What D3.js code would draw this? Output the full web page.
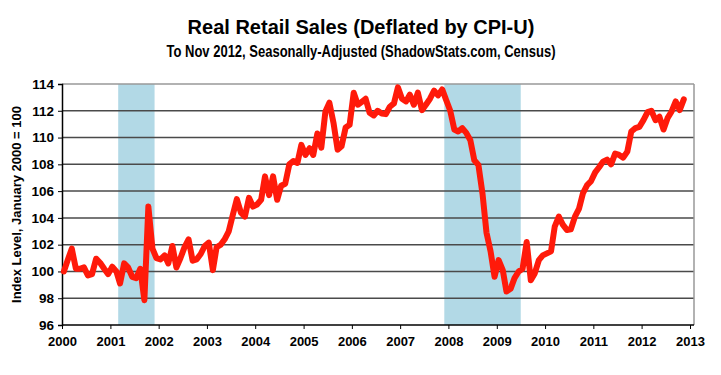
<!DOCTYPE html>
<html>
<head>
<meta charset="utf-8">
<script src="https://cdn.jsdelivr.net/npm/d3@7"></script>
<style>
  body { margin: 0; background: #fff; }
  svg text { font-family: "Liberation Sans", Arial, sans-serif; font-weight: bold; fill: #000; }
</style>
</head>
<body>
<div id="chart"></div>
<script>
// monthly index, January 2000 = 100
const v2000 = [100.0, 100.9, 101.7, 100.2, 100.2, 100.3, 99.7, 99.8, 100.95, 100.65, 100.2, 99.8];
const v2001 = [100.35, 100.0, 99.1, 100.6, 100.3, 99.6, 99.5, 100.2, 97.85, 104.85, 101.7, 101.0];
const v2002 = [100.9, 101.2, 100.6, 101.9, 100.3, 101.0, 101.8, 102.4, 100.8, 100.9, 101.3, 101.9];
const v2003 = [102.15, 100.1, 101.8, 102.0, 102.4, 103.0, 104.2, 105.4, 104.4, 104.1, 105.5, 104.85];
const v2004 = [105.0, 105.35, 107.1, 105.7, 107.1, 105.35, 106.4, 106.55, 108.0, 108.25, 108.1, 109.45];
const v2005 = [108.7, 109.2, 108.7, 110.3, 109.25, 111.95, 112.6, 111.1, 109.1, 109.35, 110.75, 110.95];
const v2006 = [113.35, 112.45, 112.65, 112.9, 111.85, 111.65, 112.0, 111.8, 111.75, 112.3, 112.55, 113.75];
const v2007 = [112.9, 112.7, 113.2, 112.45, 113.35, 112.05, 112.45, 112.9, 113.5, 113.15, 113.6, 112.8];
const v2008 = [112.0, 110.6, 110.45, 110.7, 110.35, 109.8, 108.3, 107.95, 105.8, 102.9, 101.5, 99.6];
const v2009 = [100.85, 100.1, 98.5, 98.7, 99.5, 100.0, 100.2, 102.2, 99.35, 99.85, 100.85, 101.2];
const v2010 = [101.35, 101.5, 103.35, 104.1, 103.5, 103.1, 103.15, 104.1, 104.7, 105.85, 106.45, 106.75];
const v2011 = [107.4, 107.8, 108.2, 108.35, 108.0, 108.8, 108.7, 108.5, 108.95, 110.45, 110.7, 110.8];
const v2012 = [111.3, 111.9, 112.0, 111.3, 111.55, 110.6, 111.45, 111.95, 112.7, 112.05, 112.85];

// recessions [start, end] as [year, month(0-based)], shaded through the end month
const recessions = [[[2001, 2], [2001, 10]], [[2007, 11], [2009, 5]]];

const yTicks = [96, 98, 100, 102, 104, 106, 108, 110, 112, 114];
const xTicks = [2000, 2001, 2002, 2003, 2004, 2005, 2006, 2007, 2008, 2009, 2010, 2011, 2012, 2013];

const title = "Real Retail Sales (Deflated by CPI-U)";
const subtitle = "To Nov 2012, Seasonally-Adjusted (ShadowStats.com, Census)";
const yTitle = "Index Level, January 2000 = 100";

const series = [v2000, v2001, v2002, v2003, v2004, v2005, v2006, v2007, v2008, v2009, v2010, v2011, v2012]
  .flatMap((vals, yi) => vals.map((v, m) => ({ date: new Date(2000 + yi, m, 15), value: v })));

const width = 721, height = 375;
const margin = { top: 84, right: 27, bottom: 50, left: 62 };

const svg = d3.select("#chart").append("svg")
  .attr("width", width)
  .attr("height", height);

const x = d3.scaleTime()
  .domain([new Date(2000, 0, 1), new Date(2013, 0, 1)])
  .range([margin.left, 690]);

const y = d3.scaleLinear()
  .domain([96, 114])
  .range([height - margin.bottom, margin.top]);

const plotRight = width - margin.right;

svg.selectAll(".recession")
  .data(recessions)
  .enter().append("rect")
  .attr("class", "recession")
  .attr("x", d => x(new Date(d[0][0], d[0][1], 1)))
  .attr("width", d => x(new Date(d[1][0], d[1][1] + 1, 1)) - x(new Date(d[0][0], d[0][1], 1)))
  .attr("y", y(114))
  .attr("height", y(96) - y(114))
  .attr("fill", "#b2d9e6");

// gridlines
svg.append("g")
  .selectAll("line")
  .data(yTicks.filter(t => t > 96))
  .enter().append("line")
  .attr("x1", margin.left)
  .attr("x2", plotRight)
  .attr("y1", d => y(d))
  .attr("y2", d => y(d))
  .attr("stroke", d => d === 114 ? "#999" : "#4a4a4a")
  .attr("stroke-width", 1.5);

svg.append("line")
  .attr("x1", plotRight).attr("x2", plotRight)
  .attr("y1", y(114)).attr("y2", y(96))
  .attr("stroke", "#999")
  .attr("stroke-width", 1.5);

// axes
const yAxis = svg.append("g")
  .attr("transform", `translate(${margin.left},0)`)
  .call(d3.axisLeft(y).tickValues(yTicks).tickSize(4).tickPadding(4).tickFormat(d3.format("d")));
yAxis.selectAll("text").style("font-size", "13.5px");
yAxis.select(".domain").attr("stroke-width", 1.5);

const xAxis = svg.append("g")
  .attr("transform", `translate(0,${y(96)})`)
  .call(d3.axisBottom(x).tickValues(xTicks.map(t => new Date(t, 0, 1))).tickSize(4).tickPadding(8).tickFormat(d3.timeFormat("%Y")));
xAxis.selectAll("text").style("font-size", "13px");
xAxis.select(".domain").attr("d", `M${margin.left},0H${plotRight}`).attr("stroke-width", 1.5);

svg.append("path")
  .datum(series)
  .attr("fill", "none")
  .attr("stroke", "#ff1a0a")
  .attr("stroke-width", 6)
  .attr("stroke-linejoin", "round")
  .attr("stroke-linecap", "round")
  .attr("d", d3.line().x(d => x(d.date)).y(d => y(d.value)));

// titles
svg.append("text")
  .attr("x", 361).attr("y", 34)
  .attr("text-anchor", "middle")
  .style("font-size", "20px")
  .text(title);

svg.append("text")
  .attr("x", 361).attr("y", 57)
  .attr("text-anchor", "middle")
  .attr("textLength", 389)
  .attr("lengthAdjust", "spacingAndGlyphs")
  .style("font-size", "16px")
  .text(subtitle);

svg.append("text")
  .attr("transform", `translate(21,${(y(96) + y(114)) / 2}) rotate(-90)`)
  .attr("text-anchor", "middle")
  .style("font-size", "13px")
  .text(yTitle);
</script>
</body>
</html>
